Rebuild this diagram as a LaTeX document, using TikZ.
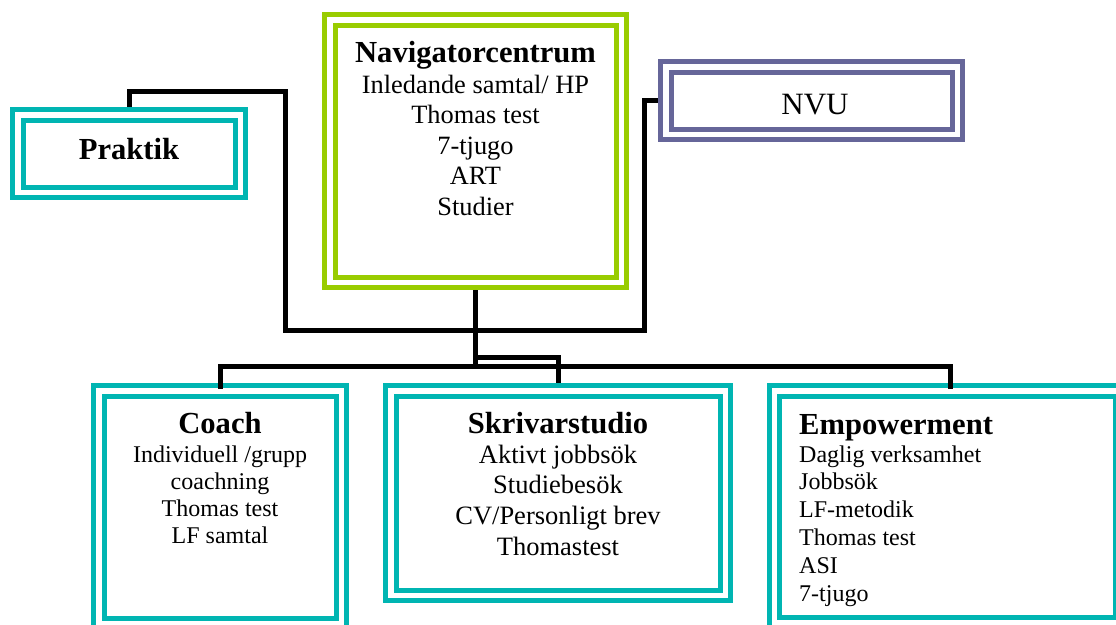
\documentclass[tikz,border=0pt]{standalone}
\usepackage{fontspec}
\setmainfont{Liberation Serif}
\usetikzlibrary{calc}
\definecolor{tealbox}{RGB}{0,181,178}
\definecolor{greenbox}{RGB}{153,204,0}
\definecolor{purplebox}{RGB}{102,102,153}
\begin{document}
\begin{tikzpicture}[x=1pt,y=-1pt,
  dbox/.style={rectangle, draw=#1, line width=5pt, double=white, double distance=5.5pt, fill=white, inner sep=0pt, outer sep=0pt},
  conn/.style={draw=black, line width=5pt},
  ttl/.style={font=\fontsize{30.6}{36}\selectfont\bfseries, inner sep=0pt, anchor=base},
  txt/.style={font=\fontsize{#1}{30}\selectfont, inner sep=0pt, anchor=base},
]
\useasboundingbox (0,0) rectangle (1116,624);

% coordinates for connector corners
\coordinate (pk) at (285,91);
\coordinate (brL) at (285,330.5);
\coordinate (brR) at (644,330.5);
\coordinate (nk) at (644,100.5);
\coordinate (st) at (475.5,357.5);
\coordinate (barR) at (950,366);
\coordinate (empdrop) at (950,389);
\coordinate (navend) at (475.5,369);

% boxes (positions only, drawn after connectors behind)
\path node[dbox=tealbox, minimum width=222.5pt, minimum height=77.5pt, draw=none, fill=none] (prak) at (129,153.5) {};
\path node[dbox=greenbox, minimum width=291.5pt, minimum height=262.5pt, draw=none, fill=none] (nav) at (475.5,151) {};
\path node[dbox=purplebox, minimum width=291.5pt, minimum height=67.5pt, draw=none, fill=none] (nvu) at (811.5,100.5) {};
\path node[dbox=tealbox, minimum width=242.5pt, minimum height=233pt, draw=none, fill=none] (coach) at (220,507.25) {};
\path node[dbox=tealbox, minimum width=334.5pt, minimum height=204.5pt, draw=none, fill=none] (skriv) at (558,493) {};
\path node[dbox=tealbox, minimum width=345.75pt, minimum height=232pt, draw=none, fill=none] (emp) at (947.6,506.75) {};

% connectors behind boxes
\draw[conn] (prak.north) |- (pk) -- (brL) -- (brR) -- (nk) -- (nvu.west);
\draw[conn] (nav.south) -- (navend);
\draw[conn] (st) -| (skriv.north);

% boxes drawn
\draw[dbox=tealbox] (prak.north west) rectangle (prak.south east);
\draw[dbox=greenbox] (nav.north west) rectangle (nav.south east);
\draw[dbox=purplebox] (nvu.north west) rectangle (nvu.south east);
\draw[dbox=tealbox] (coach.north west) rectangle (coach.south east);
\draw[dbox=tealbox] (skriv.north west) rectangle (skriv.south east);
\draw[dbox=tealbox] (emp.north west) rectangle (emp.south east);

% bar over the box tops
\draw[conn] ($(coach.north)+(0,-2)$) |- (barR) -- (empdrop);

% texts
\node[ttl] (prakT) at (129,159) {Praktik};
\node[txt=31] (nvuT) at (815,114) {NVU};

\node[ttl] (navT) at (475.5,62) {Navigatorcentrum};
\foreach \t [count=\i from 0] in {Inledande samtal/ HP, Thomas test, 7-tjugo, ART, Studier}
  \node[txt=26.4] (navL\i) at (475.5,93+30.5*\i) {\t};

\node[ttl] (coachT) at (220,433) {Coach};
\foreach \t [count=\i from 0] in {Individuell /grupp, coachning, Thomas test, LF samtal}
  \node[txt=24] (coachL\i) at (220,462+27.3*\i) {\t};

\node[ttl] (skrivT) at (558,433) {Skrivarstudio};
\foreach \t [count=\i from 0] in {Aktivt jobbsök, Studiebesök, CV/Personligt brev, Thomastest}
  \node[txt=26.5] (skrivL\i) at (558,463+30.7*\i) {\t};

\node[ttl, anchor=base west] (empT) at (799,434) {Empowerment};
\foreach \t [count=\i from 0] in {Daglig verksamhet, Jobbsök, LF-metodik, Thomas test, ASI, 7-tjugo}
  \node[txt=24, anchor=base west] (empL\i) at (799,462+27.8*\i) {\t};
\end{tikzpicture}
\end{document}
